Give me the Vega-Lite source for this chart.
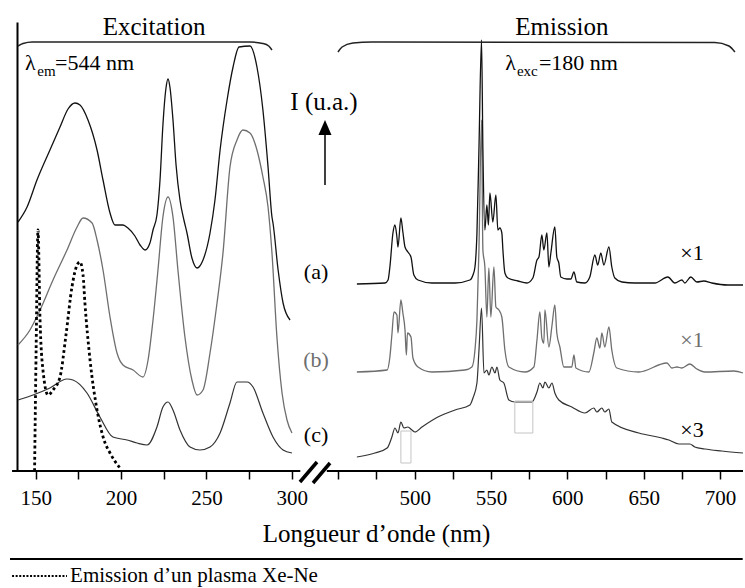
{
  "$schema": "https://vega.github.io/schema/vega-lite/v6.json",
  "width": 726,
  "height": 449,
  "autosize": "none",
  "padding": {"left": 17, "top": 22, "right": 2, "bottom": 117},
  "background": "white",
  "config": {"view": {"stroke": null}, "font": "Liberation Serif", "text": {"font": "Liberation Serif"}, "axis": {"labelFont": "Liberation Serif", "titleFont": "Liberation Serif"}},
  "datasets": {
    "exc_a": [
      {"wl":139.6,"I":249},{"wl":144.9,"I":264},{"wl":150.7,"I":291},{"wl":158.3,"I":321},{"wl":164.2,"I":344},{"wl":168.9,"I":362},{"wl":173.0,"I":368},{"wl":175.9,"I":366},{"wl":180.6,"I":351},{"wl":185.9,"I":321},{"wl":189.4,"I":291},{"wl":193.5,"I":258},{"wl":196.4,"I":246},{"wl":201.1,"I":246},{"wl":204.0,"I":243},{"wl":208.1,"I":235},{"wl":211.1,"I":226},{"wl":214.0,"I":221},{"wl":216.9,"I":228},{"wl":218.7,"I":241},{"wl":221.0,"I":256},{"wl":222.8,"I":291},{"wl":224.5,"I":346},{"wl":226.3,"I":383},{"wl":227.5,"I":392},{"wl":228.6,"I":384},{"wl":230.4,"I":351},{"wl":232.2,"I":306},{"wl":234.5,"I":271},{"wl":236.8,"I":251},{"wl":238.6,"I":238},{"wl":241.5,"I":213},{"wl":244.5,"I":203},{"wl":248.0,"I":211},{"wl":252.1,"I":238},{"wl":255.0,"I":271},{"wl":258.0,"I":321},{"wl":262.1,"I":371},{"wl":265.6,"I":404},{"wl":269.1,"I":424},{"wl":275.5,"I":425},{"wl":279.6,"I":404},{"wl":283.1,"I":361},{"wl":286.1,"I":304},{"wl":288.4,"I":254},{"wl":289.0,"I":248},{"wl":292.0,"I":201},{"wl":294.9,"I":168},{"wl":299.0,"I":151}
    ],
    "exc_b": [
      {"wl":139.6,"I":126},{"wl":146.6,"I":141},{"wl":152.5,"I":161},{"wl":160.1,"I":191},{"wl":168.3,"I":221},{"wl":174.2,"I":244},{"wl":177.7,"I":253},{"wl":183.0,"I":248},{"wl":185.9,"I":231},{"wl":189.4,"I":201},{"wl":193.5,"I":154},{"wl":197.6,"I":118},{"wl":201.1,"I":106},{"wl":207.0,"I":101},{"wl":212.8,"I":94},{"wl":215.8,"I":111},{"wl":218.7,"I":151},{"wl":221.6,"I":201},{"wl":224.5,"I":254},{"wl":227.5,"I":274},{"wl":230.4,"I":254},{"wl":233.3,"I":201},{"wl":237.4,"I":134},{"wl":241.5,"I":91},{"wl":244.5,"I":76},{"wl":248.0,"I":81},{"wl":252.1,"I":118},{"wl":256.2,"I":168},{"wl":259.7,"I":218},{"wl":263.8,"I":304},{"wl":267.9,"I":331},{"wl":271.4,"I":341},{"wl":275.5,"I":338},{"wl":279.6,"I":321},{"wl":283.1,"I":294},{"wl":286.1,"I":264},{"wl":288.4,"I":218},{"wl":291.3,"I":134},{"wl":294.3,"I":78},{"wl":297.2,"I":51},{"wl":300.1,"I":38}
    ],
    "exc_c": [
      {"wl":139.6,"I":71},{"wl":148.4,"I":76},{"wl":158.3,"I":83},{"wl":168.3,"I":92},{"wl":171.8,"I":91},{"wl":180.0,"I":78},{"wl":187.6,"I":54},{"wl":195.2,"I":34},{"wl":203.5,"I":31},{"wl":209.3,"I":28},{"wl":215.2,"I":26},{"wl":221.0,"I":44},{"wl":224.5,"I":64},{"wl":227.5,"I":69},{"wl":230.4,"I":61},{"wl":234.5,"I":41},{"wl":240.4,"I":24},{"wl":246.2,"I":21},{"wl":252.1,"I":24},{"wl":258.0,"I":38},{"wl":263.8,"I":68},{"wl":267.9,"I":89},{"wl":273.8,"I":89},{"wl":277.3,"I":84},{"wl":283.1,"I":58},{"wl":289.0,"I":34},{"wl":294.9,"I":21},{"wl":300.1,"I":18}
    ],
    "plasma": [
      {"wl":149.3,"I":0},{"wl":150.2,"I":121},{"wl":151.3,"I":241},{"wl":152.5,"I":151},{"wl":154.2,"I":101},{"wl":157.2,"I":76},{"wl":160.1,"I":81},{"wl":164.2,"I":94},{"wl":167.7,"I":136},{"wl":171.2,"I":184},{"wl":174.2,"I":206},{"wl":175.9,"I":209},{"wl":177.7,"I":196},{"wl":178.8,"I":168},{"wl":181.8,"I":111},{"wl":185.9,"I":61},{"wl":190.0,"I":31},{"wl":193.5,"I":18},{"wl":199.3,"I":3}
    ],
    "em_a": [
      {"wl":462.2,"I":187},{"wl":480.6,"I":188},{"wl":482.6,"I":191},{"wl":483.8,"I":204},{"wl":485.8,"I":238},{"wl":487.1,"I":246},{"wl":488.4,"I":234},{"wl":489.1,"I":224},{"wl":491.0,"I":253},{"wl":492.3,"I":239},{"wl":493.7,"I":224},{"wl":495.6,"I":219},{"wl":497.6,"I":214},{"wl":499.5,"I":196},{"wl":502.2,"I":191},{"wl":511.3,"I":188},{"wl":526.4,"I":188},{"wl":536.2,"I":191},{"wl":538.2,"I":196},{"wl":539.5,"I":204},{"wl":540.8,"I":238},{"wl":542.1,"I":321},{"wl":543.8,"I":431},{"wl":544.7,"I":321},{"wl":546.0,"I":241},{"wl":547.3,"I":266},{"wl":548.3,"I":246},{"wl":549.3,"I":278},{"wl":551.2,"I":249},{"wl":553.2,"I":276},{"wl":554.5,"I":241},{"wl":555.8,"I":243},{"wl":557.1,"I":238},{"wl":557.8,"I":221},{"wl":559.1,"I":198},{"wl":561.1,"I":193},{"wl":567.6,"I":190},{"wl":573.5,"I":188},{"wl":577.4,"I":193},{"wl":580.1,"I":211},{"wl":581.4,"I":214},{"wl":583.3,"I":236},{"wl":584.6,"I":221},{"wl":586.6,"I":238},{"wl":587.9,"I":204},{"wl":589.2,"I":218},{"wl":591.8,"I":244},{"wl":593.1,"I":214},{"wl":594.4,"I":208},{"wl":595.7,"I":194},{"wl":599.7,"I":192},{"wl":602.3,"I":192},{"wl":604.3,"I":199},{"wl":606.2,"I":189},{"wl":611.5,"I":188},{"wl":614.7,"I":194},{"wl":618.0,"I":216},{"wl":619.9,"I":206},{"wl":621.9,"I":218},{"wl":623.9,"I":206},{"wl":627.2,"I":224},{"wl":629.1,"I":204},{"wl":631.1,"I":193},{"wl":635.7,"I":189},{"wl":644.2,"I":188},{"wl":657.3,"I":188},{"wl":665.8,"I":194},{"wl":670.4,"I":188},{"wl":675.0,"I":191},{"wl":676.9,"I":188},{"wl":680.8,"I":194},{"wl":684.8,"I":189},{"wl":689.3,"I":190},{"wl":694.6,"I":188},{"wl":705.0,"I":186},{"wl":715.0,"I":186}
    ],
    "em_b": [
      {"wl":462.2,"I":99},{"wl":482.0,"I":101},{"wl":483.8,"I":114},{"wl":485.1,"I":136},{"wl":486.5,"I":159},{"wl":488.4,"I":156},{"wl":489.1,"I":138},{"wl":491.0,"I":171},{"wl":492.3,"I":158},{"wl":493.7,"I":141},{"wl":494.6,"I":116},{"wl":495.3,"I":138},{"wl":497.6,"I":134},{"wl":498.9,"I":113},{"wl":502.2,"I":104},{"wl":511.3,"I":99},{"wl":532.9,"I":101},{"wl":537.5,"I":104},{"wl":539.5,"I":121},{"wl":540.8,"I":151},{"wl":542.1,"I":221},{"wl":543.8,"I":351},{"wl":544.7,"I":221},{"wl":546.0,"I":204},{"wl":547.3,"I":154},{"wl":548.6,"I":203},{"wl":549.9,"I":154},{"wl":551.9,"I":204},{"wl":553.2,"I":164},{"wl":555.2,"I":161},{"wl":557.1,"I":154},{"wl":559.1,"I":121},{"wl":561.7,"I":104},{"wl":572.2,"I":99},{"wl":578.1,"I":104},{"wl":580.1,"I":131},{"wl":582.0,"I":159},{"wl":583.3,"I":133},{"wl":584.6,"I":128},{"wl":585.3,"I":161},{"wl":587.9,"I":124},{"wl":589.9,"I":145},{"wl":591.8,"I":166},{"wl":593.1,"I":138},{"wl":595.1,"I":124},{"wl":597.7,"I":104},{"wl":602.9,"I":104},{"wl":604.3,"I":116},{"wl":605.6,"I":103},{"wl":614.1,"I":99},{"wl":617.3,"I":118},{"wl":619.3,"I":133},{"wl":621.3,"I":123},{"wl":622.6,"I":138},{"wl":624.5,"I":124},{"wl":627.2,"I":144},{"wl":629.1,"I":121},{"wl":632.4,"I":103},{"wl":646.8,"I":99},{"wl":665.2,"I":108},{"wl":668.4,"I":103},{"wl":671.7,"I":104},{"wl":675.0,"I":103},{"wl":680.2,"I":107},{"wl":684.8,"I":102},{"wl":690.0,"I":99},{"wl":709.0,"I":100},{"wl":715.0,"I":98}
    ],
    "em_c": [
      {"wl":462.2,"I":14},{"wl":474.0,"I":18},{"wl":482.0,"I":23},{"wl":485.1,"I":34},{"wl":487.1,"I":43},{"wl":489.1,"I":38},{"wl":491.0,"I":49},{"wl":493.0,"I":43},{"wl":495.6,"I":44},{"wl":498.2,"I":41},{"wl":500.2,"I":39},{"wl":504.8,"I":44},{"wl":515.2,"I":54},{"wl":526.4,"I":61},{"wl":536.2,"I":66},{"wl":538.2,"I":73},{"wl":540.8,"I":88},{"wl":542.1,"I":120},{"wl":543.8,"I":163},{"wl":545.4,"I":98},{"wl":547.3,"I":101},{"wl":548.6,"I":96},{"wl":550.6,"I":104},{"wl":552.6,"I":98},{"wl":553.9,"I":104},{"wl":555.8,"I":91},{"wl":558.4,"I":88},{"wl":561.7,"I":71},{"wl":565.6,"I":69},{"wl":576.8,"I":69},{"wl":580.1,"I":79},{"wl":582.0,"I":88},{"wl":584.0,"I":83},{"wl":585.3,"I":89},{"wl":587.9,"I":83},{"wl":589.9,"I":88},{"wl":591.8,"I":78},{"wl":594.4,"I":71},{"wl":602.9,"I":64},{"wl":611.5,"I":58},{"wl":617.3,"I":63},{"wl":619.3,"I":59},{"wl":622.6,"I":63},{"wl":624.5,"I":59},{"wl":627.2,"I":62},{"wl":629.1,"I":49},{"wl":646.8,"I":38},{"wl":661.9,"I":33},{"wl":666.5,"I":31},{"wl":673.0,"I":27},{"wl":680.2,"I":27},{"wl":683.4,"I":24},{"wl":690.0,"I":22},{"wl":701.1,"I":20},{"wl":715.0,"I":18}
    ],
    "braces": [
      {"b":"exc","wl":139.6,"I":425},{"b":"exc","wl":142.5,"I":427.5},{"b":"exc","wl":148,"I":429},{"b":"exc","wl":275.5,"I":429},{"b":"exc","wl":283,"I":427.5},{"b":"exc","wl":286.5,"I":425},{"b":"exc","wl":288.4,"I":421},
      {"b":"em","wl":449.8,"I":419},{"b":"em","wl":452.5,"I":424},{"b":"em","wl":459.6,"I":428},{"b":"em","wl":472,"I":429},{"b":"em","wl":696.6,"I":428.5},{"b":"em","wl":705.8,"I":425},{"b":"em","wl":709.7,"I":419}
    ],
    "segments": [
      {"part":"axis","wl":136.1,"wl2":305,"I":0,"I2":0},
      {"part":"axis","wl":433,"wl2":715,"I":0,"I2":0},
      {"part":"separator","wl":134.9,"wl2":714.8,"I":-88,"I2":-88}
    ],
    "breakmarks": [
      {"wl":304.8,"wl2":385.6,"I":-11,"I2":9},
      {"wl":366.3,"wl2":444.6,"I":-12,"I2":8}
    ],
    "arrow": [{"wl":424.2,"wl2":424.2,"I":286,"I2":337}],
    "arrowhead": [{"wl":424.2,"I":343.5}],
    "boxes": [
      {"wl":491.0,"wl2":497.6,"I":40,"I2":8},
      {"wl":565.6,"wl2":577.4,"I":70,"I2":38}
    ],
    "titles": [
      {"t":"Excitation","wl":219.3,"I":436},
      {"t":"Emission","wl":596.4,"I":436},
      {"t":"I (u.a.)","wl":419.4,"I":361}
    ],
    "labels_black": [
      {"t":"(a)","wl":380.8,"I":199},
      {"t":"(c)","wl":380.8,"I":36},
      {"t":"×1","wl":681.6,"I":218},
      {"t":"×3","wl":681.6,"I":41}
    ],
    "labels_gray": [
      {"t":"(b)","wl":380.8,"I":111},
      {"t":"×1","wl":681.6,"I":131}
    ],
    "lambda_main": [
      {"t":"λ","wl":143.7,"I":401},
      {"t":"=544 nm","wl":161.3,"I":401},
      {"t":"λ","wl":559.4,"I":401},
      {"t":"=180 nm","wl":581.4,"I":401}
    ],
    "lambda_sub": [
      {"t":"em","wl":150.9,"I":395},
      {"t":"exc","wl":567.0,"I":395}
    ],
    "legend_line": [{"wl":136.1,"I":-105},{"wl":168.3,"I":-105}],
    "legend_text": [{"t":"Emission d’un plasma Xe-Ne","wl":170.1,"I":-105}]
  },
  "layer": [
    {
      "data": {"name": "exc_c"},
      "mark": {"type": "line", "color": "#333333", "strokeWidth": 1.2, "interpolate": "monotone"},
      "encoding": {
        "x": {"field": "wl", "type": "quantitative",
          "scale": {"domain": [139, 305, 444, 715], "range": [0, 283.3, 312.1, 726], "nice": false, "zero": false},
          "axis": {"domain": false, "grid": false, "values": [150,175,200,225,250,275,300,450,475,500,525,550,575,600,625,650,675,700],
            "labelExpr": "(datum.value % 50 == 0 && datum.value != 450) ? datum.label : ''",
            "tickSize": 8, "tickWidth": 1.5, "tickColor": "black", "labelColor": "black",
            "labelFont": "Liberation Serif", "labelFontSize": 21, "labelPadding": 8,
            "title": "Longueur d’onde (nm)", "titleFont": "Liberation Serif", "titleFontSize": 25, "titleFontWeight": "normal",
            "titleColor": "black", "titleX": 359, "titleY": 62, "titleBaseline": "middle", "titleAlign": "center"}},
        "y": {"field": "I", "type": "quantitative",
          "scale": {"domain": [0, 449], "nice": false, "zero": false},
          "axis": {"domain": true, "domainWidth": 2, "domainColor": "black", "ticks": false, "labels": false, "grid": false, "title": null}}
      }
    },
    {
      "data": {"name": "exc_b"},
      "mark": {"type": "line", "color": "#6e6e6e", "strokeWidth": 1.3, "interpolate": "monotone"},
      "encoding": {"x": {"field": "wl", "type": "quantitative"}, "y": {"field": "I", "type": "quantitative"}}
    },
    {
      "data": {"name": "exc_a"},
      "mark": {"type": "line", "color": "#111111", "strokeWidth": 1.3, "interpolate": "monotone"},
      "encoding": {"x": {"field": "wl", "type": "quantitative"}, "y": {"field": "I", "type": "quantitative"}}
    },
    {
      "data": {"name": "em_c"},
      "mark": {"type": "line", "color": "#333333", "strokeWidth": 1.2, "interpolate": "monotone"},
      "encoding": {"x": {"field": "wl", "type": "quantitative"}, "y": {"field": "I", "type": "quantitative"}}
    },
    {
      "data": {"name": "em_b"},
      "mark": {"type": "line", "color": "#6e6e6e", "strokeWidth": 1.3, "interpolate": "monotone"},
      "encoding": {"x": {"field": "wl", "type": "quantitative"}, "y": {"field": "I", "type": "quantitative"}}
    },
    {
      "data": {"name": "em_a"},
      "mark": {"type": "line", "color": "#111111", "strokeWidth": 1.3, "interpolate": "monotone"},
      "encoding": {"x": {"field": "wl", "type": "quantitative"}, "y": {"field": "I", "type": "quantitative"}}
    },
    {
      "data": {"name": "plasma"},
      "mark": {"type": "line", "color": "black", "strokeWidth": 2.8, "strokeDash": [2.8, 2.8], "interpolate": "monotone"},
      "encoding": {"x": {"field": "wl", "type": "quantitative"}, "y": {"field": "I", "type": "quantitative"}}
    },
    {
      "data": {"name": "braces"},
      "mark": {"type": "line", "color": "#222222", "strokeWidth": 1.5, "interpolate": "monotone"},
      "encoding": {"x": {"field": "wl", "type": "quantitative"}, "y": {"field": "I", "type": "quantitative"}, "detail": {"field": "b"}}
    },
    {
      "data": {"name": "segments"},
      "mark": {"type": "rule", "color": "black", "strokeWidth": 2.2},
      "encoding": {"x": {"field": "wl", "type": "quantitative"}, "x2": {"field": "wl2"}, "y": {"field": "I", "type": "quantitative"}, "y2": {"field": "I2"}}
    },
    {
      "data": {"name": "breakmarks"},
      "mark": {"type": "rule", "color": "black", "strokeWidth": 3.5},
      "encoding": {"x": {"field": "wl", "type": "quantitative"}, "x2": {"field": "wl2"}, "y": {"field": "I", "type": "quantitative"}, "y2": {"field": "I2"}}
    },
    {
      "data": {"name": "arrow"},
      "mark": {"type": "rule", "color": "black", "strokeWidth": 1.5},
      "encoding": {"x": {"field": "wl", "type": "quantitative"}, "x2": {"field": "wl2"}, "y": {"field": "I", "type": "quantitative"}, "y2": {"field": "I2"}}
    },
    {
      "data": {"name": "arrowhead"},
      "mark": {"type": "point", "shape": "M-0.87,1L0,-1L0.87,1Z", "filled": true, "color": "black", "size": 225, "opacity": 1},
      "encoding": {"x": {"field": "wl", "type": "quantitative"}, "y": {"field": "I", "type": "quantitative"}}
    },
    {
      "data": {"name": "boxes"},
      "mark": {"type": "rect", "fillOpacity": 0, "stroke": "#c4c4c4", "strokeWidth": 1},
      "encoding": {"x": {"field": "wl", "type": "quantitative"}, "x2": {"field": "wl2"}, "y": {"field": "I", "type": "quantitative"}, "y2": {"field": "I2"}}
    },
    {
      "data": {"name": "titles"},
      "mark": {"type": "text", "fontSize": 25, "color": "black", "align": "center", "baseline": "alphabetic"},
      "encoding": {"x": {"field": "wl", "type": "quantitative"}, "y": {"field": "I", "type": "quantitative"}, "text": {"field": "t"}}
    },
    {
      "data": {"name": "labels_black"},
      "mark": {"type": "text", "fontSize": 22, "color": "black", "align": "center", "baseline": "middle"},
      "encoding": {"x": {"field": "wl", "type": "quantitative"}, "y": {"field": "I", "type": "quantitative"}, "text": {"field": "t"}}
    },
    {
      "data": {"name": "labels_gray"},
      "mark": {"type": "text", "fontSize": 22, "color": "#6e6e6e", "align": "center", "baseline": "middle"},
      "encoding": {"x": {"field": "wl", "type": "quantitative"}, "y": {"field": "I", "type": "quantitative"}, "text": {"field": "t"}}
    },
    {
      "data": {"name": "lambda_main"},
      "mark": {"type": "text", "fontSize": 22, "color": "black", "align": "left", "baseline": "alphabetic"},
      "encoding": {"x": {"field": "wl", "type": "quantitative"}, "y": {"field": "I", "type": "quantitative"}, "text": {"field": "t"}}
    },
    {
      "data": {"name": "lambda_sub"},
      "mark": {"type": "text", "fontSize": 15, "color": "black", "align": "left", "baseline": "alphabetic"},
      "encoding": {"x": {"field": "wl", "type": "quantitative"}, "y": {"field": "I", "type": "quantitative"}, "text": {"field": "t"}}
    },
    {
      "data": {"name": "legend_line"},
      "mark": {"type": "line", "color": "black", "strokeWidth": 2.2, "strokeDash": [2, 1.6]},
      "encoding": {"x": {"field": "wl", "type": "quantitative"}, "y": {"field": "I", "type": "quantitative"}}
    },
    {
      "data": {"name": "legend_text"},
      "mark": {"type": "text", "fontSize": 21, "color": "black", "align": "left", "baseline": "middle"},
      "encoding": {"x": {"field": "wl", "type": "quantitative"}, "y": {"field": "I", "type": "quantitative"}, "text": {"field": "t"}}
    }
  ]
}
